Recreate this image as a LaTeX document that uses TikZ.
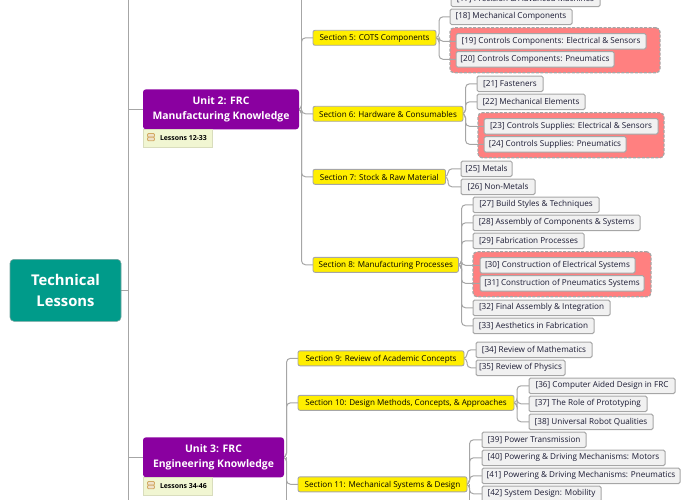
\documentclass[tikz,border=0pt]{standalone}
\usepackage{fontspec}
\setmainfont{Open Sans}
\usetikzlibrary{calc}
\pgfdeclarelayer{groups}
\pgfdeclarelayer{links}
\pgfsetlayers{groups,links,main}
\definecolor{rootc}{HTML}{009B8A}
\definecolor{unitc}{HTML}{8A00A0}
\definecolor{secc}{HTML}{FFEE00}
\definecolor{leafc}{HTML}{F1F1F1}
\definecolor{linec}{HTML}{A6A6A6}
\definecolor{redc}{HTML}{FF8080}
\definecolor{notec}{HTML}{F1F6D2}
\definecolor{iconc}{HTML}{D2AA64}
\definecolor{inkc}{HTML}{1A1A33}
\tikzset{
  basebox/.style={rectangle,inner sep=0pt,outer sep=0pt,align=center},
  rootbox/.style={basebox,rounded corners=4pt,fill=rootc,draw=linec!70!rootc,line width=.6pt,minimum height=62pt,text=white,font=\fontsize{14.8}{21}\selectfont\bfseries,execute at begin node={\rule{0pt}{17.5pt}}},
  unitbox/.style={basebox,rounded corners=3pt,fill=unitc,minimum height=40pt,text=white,font=\fontsize{10.4}{15}\selectfont\bfseries,execute at begin node={\rule{0pt}{12pt}}},
  secbox/.style={basebox,rounded corners=2pt,fill=secc,draw=linec,line width=.9pt,minimum height=15pt,text=black,font=\fontsize{8.1}{10}\selectfont,execute at begin node={\rule{0pt}{7.8pt}}},
  leafbox/.style={basebox,rounded corners=1.5pt,fill=leafc,draw=linec,line width=1pt,minimum height=15.5pt,text=inkc,font=\fontsize{8.15}{10}\selectfont},
  groupbox/.style={basebox,rounded corners=4pt,fill=redc,draw=linec,line width=1.2pt,dash pattern=on 3pt off 1.5pt},
  notebox/.style={basebox,anchor=north west,fill=notec,draw=notec!90!black,line width=.4pt,minimum height=17.5pt,minimum width=69pt},
  notetext/.style={basebox,anchor=west,text=black,font=\fontsize{6.9}{8}\selectfont\bfseries},
  iconrow/.style={basebox,draw=iconc,fill=iconc!35!white,line width=.8pt,rounded corners=1pt,minimum width=7pt,minimum height=3.6pt},
  conn/.style={draw=linec,line width=1pt,rounded corners=4pt}
}
\newcommand{\mybox}[6]{\node[#1,minimum width={#4-#3}] (#2) at ({(#3+#4)/2},#5) {#6};}
\newcommand{\tolink}[3]{\draw[conn] (#1.east) -- ++(#2,0) |- (#3.west);}
\begin{document}
\begin{tikzpicture}[x=1pt,y=-1pt]
\path[use as bounding box] (0,0) rectangle (690,500);
\begin{scope}[yshift=-0.8pt]
% groups
\begin{pgfonlayer}{groups}
\node[groupbox,minimum width=210pt,minimum height=45pt] (g1) at (555,49.5) {};
\node[groupbox,minimum width=186pt,minimum height=45pt] (g2) at (571,134.5) {};
\node[groupbox,minimum width=178pt,minimum height=45pt] (g3) at (562,273.5) {};
\end{pgfonlayer}
% root and units
\mybox{rootbox}{root}{10}{121}{289.5}{Technical\\Lessons}
\mybox{unitbox}{u2}{143}{299}{108.5}{Unit 2: FRC\\Manufacturing Knowledge}
\mybox{unitbox}{u3}{143}{284}{456.5}{Unit 3: FRC\\Engineering Knowledge}
% notes
\node[notebox] (n2) at (143,128.5) {};
\node[iconrow] (n2a) at (151,134.5) {};
\node[iconrow] (n2b) at (151,138.2) {};
\node[notetext] (n2t) at (160,137) {Lessons 12-33};
\node[notebox] (n3) at (143,476.5) {};
\node[iconrow] (n3a) at (151,482.5) {};
\node[iconrow] (n3b) at (151,486.2) {};
\node[notetext] (n3t) at (160,485) {Lessons 34-46};
% sections
\mybox{secbox}{s5}{313}{436}{37}{Section 5: COTS Components}
\mybox{secbox}{s6}{313}{463}{113}{Section 6: Hardware \& Consumables}
\mybox{secbox}{s7}{313}{445.5}{176}{Section 7: Stock \& Raw Material}
\mybox{secbox}{s8}{313}{458.5}{264}{Section 8: Manufacturing Processes}
\mybox{secbox}{s9}{298}{464}{357.5}{Section 9: Review of Academic Concepts}
\mybox{secbox}{s10}{298}{514}{402}{Section 10: Design Methods, Concepts, \& Approaches}
\mybox{secbox}{s11}{298}{467}{483.5}{Section 11: Mechanical Systems \& Design}
% leaves
\mybox{leafbox}{l17}{451}{600}{-2}{[17] Precision \& Advanced Machines}
\mybox{leafbox}{l18}{450}{572}{16}{[18] Mechanical Components}
\mybox{leafbox}{l19}{456}{646}{40.5}{[19] Controls Components: Electrical \& Sensors}
\mybox{leafbox}{l20}{456}{614}{58.5}{[20] Controls Components: Pneumatics}
\mybox{leafbox}{l21}{477}{543}{83}{[21] Fasteners}
\mybox{leafbox}{l22}{477}{585}{101}{[22] Mechanical Elements}
\mybox{leafbox}{l23}{484}{658}{125.5}{[23] Controls Supplies: Electrical \& Sensors}
\mybox{leafbox}{l24}{484}{626}{143.5}{[24] Controls Supplies: Pneumatics}
\mybox{leafbox}{l25}{461}{512}{168}{[25] Metals}
\mybox{leafbox}{l26}{461}{535}{186}{[26] Non-Metals}
\mybox{leafbox}{l27}{473}{599}{204}{[27] Build Styles \& Techniques}
\mybox{leafbox}{l28}{473}{640}{222}{[28] Assembly of Components \& Systems}
\mybox{leafbox}{l29}{473}{584}{240}{[29] Fabrication Processes}
\mybox{leafbox}{l30}{480}{635}{264.5}{[30] Construction of Electrical Systems}
\mybox{leafbox}{l31}{480}{644}{282.5}{[31] Construction of Pneumatics Systems}
\mybox{leafbox}{l32}{473}{610}{307}{[32] Final Assembly \& Integration}
\mybox{leafbox}{l33}{473}{594}{325}{[33] Aesthetics in Fabrication}
\mybox{leafbox}{l34}{476}{592}{349}{[34] Review of Mathematics}
\mybox{leafbox}{l35}{476}{565}{367}{[35] Review of Physics}
\mybox{leafbox}{l36}{529}{675}{385}{[36] Computer Aided Design in FRC}
\mybox{leafbox}{l37}{529}{647}{403}{[37] The Role of Prototyping}
\mybox{leafbox}{l38}{529}{653}{421}{[38] Universal Robot Qualities}
\mybox{leafbox}{l39}{482}{586}{439}{[39] Power Transmission}
\mybox{leafbox}{l40}{482}{665}{457}{[40] Powering \& Driving Mechanisms: Motors}
\mybox{leafbox}{l41}{482}{680}{475}{[41] Powering \& Driving Mechanisms: Pneumatics}
\mybox{leafbox}{l42}{482}{601}{493}{[42] System Design: Mobility}
% free ends
\coordinate (t0) at (128,-10);
\coordinate (t1) at (128,510);
\coordinate (u2up) at (301.5,-10);
\coordinate (u3dn) at (286.5,510);
\coordinate (s11dn) at (469,510);
\begin{pgfonlayer}{links}
\draw[conn] (t0) -- (t1);
\draw[conn] (root.east) -- (root.east -| t0);
\draw[conn] (u2.west) -- (u2.west -| t0);
\draw[conn] (u3.west) -- (u3.west -| t0);
\draw[conn] (u2up) -- (u2.east -| u2up);
\draw[conn] (u3dn) -- (u3.east -| u3dn);
\foreach \s in {s5,s6,s7,s8} {\tolink{u2}{2.5}{\s}}
\foreach \s in {s9,s10,s11} {\tolink{u3}{2.5}{\s}}
\foreach \l in {l18,l19,l20} {\tolink{s5}{3}{\l}}
\foreach \l in {l21,l22,l23,l24} {\tolink{s6}{2.5}{\l}}
\foreach \l in {l25,l26} {\tolink{s7}{2.5}{\l}}
\foreach \l in {l27,l28,l29,l30,l31,l32,l33} {\tolink{s8}{3}{\l}}
\foreach \l in {l34,l35} {\tolink{s9}{3}{\l}}
\foreach \l in {l36,l37,l38} {\tolink{s10}{3}{\l}}
\foreach \l in {l39,l40,l41,l42} {\tolink{s11}{2.5}{\l}}
\draw[conn] (s11.east -| s11dn) -- (s11dn);
\end{pgfonlayer}
\end{scope}
\end{tikzpicture}
\end{document}
